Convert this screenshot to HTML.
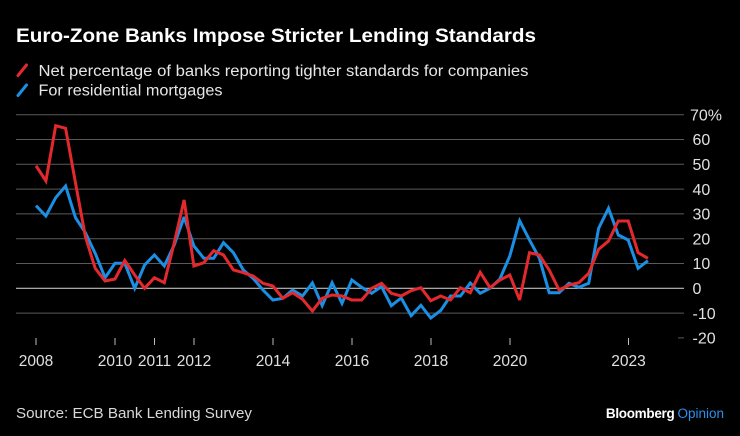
<!DOCTYPE html>
<html>
<head>
<meta charset="utf-8">
<style>
  html,body{margin:0;padding:0;background:#000;}
  svg{display:block;}
  text{font-family:"Liberation Sans",Arial,sans-serif;}
</style>
</head>
<body>
<svg width="740" height="436" viewBox="0 0 740 436" xmlns="http://www.w3.org/2000/svg">
  <rect x="0" y="0" width="740" height="436" fill="#000"/>

  <!-- Title -->
  <text x="16" y="42" font-size="19" font-weight="bold" fill="#ffffff" textLength="520" lengthAdjust="spacingAndGlyphs">Euro-Zone Banks Impose Stricter Lending Standards</text>

  <!-- Legend -->
  <line x1="18" y1="75.5" x2="26.5" y2="65" stroke="#e3292e" stroke-width="3" stroke-linecap="round"/>
  <text x="38.5" y="76" font-size="15.5" fill="#e6e6e6" textLength="490" lengthAdjust="spacingAndGlyphs">Net percentage of banks reporting tighter standards for companies</text>
  <line x1="18" y1="95.5" x2="26.5" y2="85" stroke="#1a8fe3" stroke-width="3" stroke-linecap="round"/>
  <text x="38.5" y="95.5" font-size="15.5" fill="#e6e6e6" textLength="184" lengthAdjust="spacingAndGlyphs">For residential mortgages</text>

  <!-- Gridlines -->
  <g stroke="#5a5a5a" stroke-width="1">
    <line x1="16" y1="114.7" x2="684" y2="114.7"/>
    <line x1="16" y1="139.5" x2="684" y2="139.5"/>
    <line x1="16" y1="164.3" x2="684" y2="164.3"/>
    <line x1="16" y1="189.1" x2="684" y2="189.1"/>
    <line x1="16" y1="213.9" x2="684" y2="213.9"/>
    <line x1="16" y1="238.7" x2="684" y2="238.7"/>
    <line x1="16" y1="263.5" x2="684" y2="263.5"/>
    <line x1="16" y1="313.1" x2="684" y2="313.1"/>
    <line x1="678" y1="337.9" x2="684" y2="337.9"/>
  </g>
  <line x1="16" y1="288.3" x2="684" y2="288.3" stroke="#bdbdbd" stroke-width="1.2"/>

  <!-- Y labels -->
  <g font-size="16" fill="#e0e0e0">
    <text x="690" y="120.4">70%</text>
    <text x="692.5" y="145.2">60</text>
    <text x="692.5" y="170">50</text>
    <text x="692.5" y="194.8">40</text>
    <text x="692.5" y="219.6">30</text>
    <text x="692.5" y="244.4">20</text>
    <text x="692.5" y="269.2">10</text>
    <text x="692.5" y="294">0</text>
    <text x="692.5" y="318.8">-10</text>
    <text x="692.5" y="343.6">-20</text>
  </g>

  <!-- X ticks -->
  <g stroke="#bdbdbd" stroke-width="1">
    <line x1="36" y1="338" x2="36" y2="345"/>
    <line x1="115" y1="338" x2="115" y2="345"/>
    <line x1="154.5" y1="338" x2="154.5" y2="345"/>
    <line x1="194" y1="338" x2="194" y2="345"/>
    <line x1="273" y1="338" x2="273" y2="345"/>
    <line x1="352" y1="338" x2="352" y2="345"/>
    <line x1="431" y1="338" x2="431" y2="345"/>
    <line x1="510" y1="338" x2="510" y2="345"/>
    <line x1="628.5" y1="338" x2="628.5" y2="345"/>
  </g>
  <g font-size="15.5" fill="#e0e0e0" text-anchor="middle">
    <text x="36" y="366">2008</text>
    <text x="115" y="366">2010</text>
    <text x="154.5" y="366">2011</text>
    <text x="194" y="366">2012</text>
    <text x="273" y="366">2014</text>
    <text x="352" y="366">2016</text>
    <text x="431" y="366">2018</text>
    <text x="510" y="366">2020</text>
    <text x="628.5" y="366">2023</text>
  </g>

  <!-- Series: mortgages (blue) -->
  <polyline fill="none" stroke="#1a8fe3" stroke-width="3" stroke-linejoin="miter" stroke-miterlimit="3" points="36,205.7 45.9,216 55.7,197.7 65.6,186 75.5,217.7 85.4,232.7 95.2,253.3 105.1,277.7 115,263.3 124.8,263.3 134.7,288.3 144.6,265 154.4,255 164.3,266 174.2,245 184.1,217 193.9,246 203.8,258.3 213.7,258.3 223.5,242.7 233.4,252.7 243.3,270 253.1,278.3 263,290 272.9,300 282.8,298.3 292.6,290 302.5,296 312.4,283 322.2,305.5 332.1,282.7 342,303.3 351.8,280 361.7,287.3 371.6,293.3 381.5,286.5 391.3,305.7 401.2,298 411.1,315.7 420.9,305.3 430.8,318 440.7,310.5 450.5,296 460.4,296 470.3,283 480.2,293.3 490,288.3 499.9,279 509.8,256 519.6,220.7 529.5,240 539.4,258.3 549.2,292.7 559.1,292.7 569,283.3 578.9,287.3 588.7,283.3 598.6,228.3 608.5,208.3 618.3,235 628.2,240 638.1,268.3 647.9,260.7"/>

  <!-- Series: companies (red) -->
  <polyline fill="none" stroke="#e3292e" stroke-width="3" stroke-linejoin="miter" stroke-miterlimit="3" points="36,165.7 45.9,181 55.7,125.7 65.6,128.3 75.5,183 85.4,236.7 95.2,268.3 105.1,281 115,279 124.8,260.5 134.7,275 144.6,288.3 154.4,277.7 164.3,282.7 174.2,243 184.1,200 193.9,266 203.8,262.7 213.7,250.7 223.5,255 233.4,270 243.3,272.7 253.1,276 263,283.3 272.9,286 282.8,298.3 292.6,292.7 302.5,299.3 312.4,311 322.2,298.3 332.1,295 342,296 351.8,300 361.7,300 371.6,288.3 381.5,283.3 391.3,293.3 401.2,296 411.1,290.7 420.9,287.7 430.8,300.7 440.7,296 450.5,300 460.4,287.7 470.3,292.7 480.2,272.3 490,287.7 499.9,280 509.8,275 519.6,300 529.5,252.7 539.4,255 549.2,270 559.1,290 569,285 578.9,282.7 588.7,273.3 598.6,249.3 608.5,241 618.3,221 628.2,221 638.1,252.7 647.9,258.3"/>

  <!-- Footer -->
  <text x="16" y="418" font-size="15" fill="#d9d9d9" textLength="236" lengthAdjust="spacingAndGlyphs">Source: ECB Bank Lending Survey</text>
  <text x="724" y="418" font-size="13.5" text-anchor="end" fill="#ffffff"><tspan font-weight="bold" letter-spacing="-0.3">Bloomberg</tspan><tspan fill="#2b8ff0" dx="3">Opinion</tspan></text>
</svg>
</body>
</html>
